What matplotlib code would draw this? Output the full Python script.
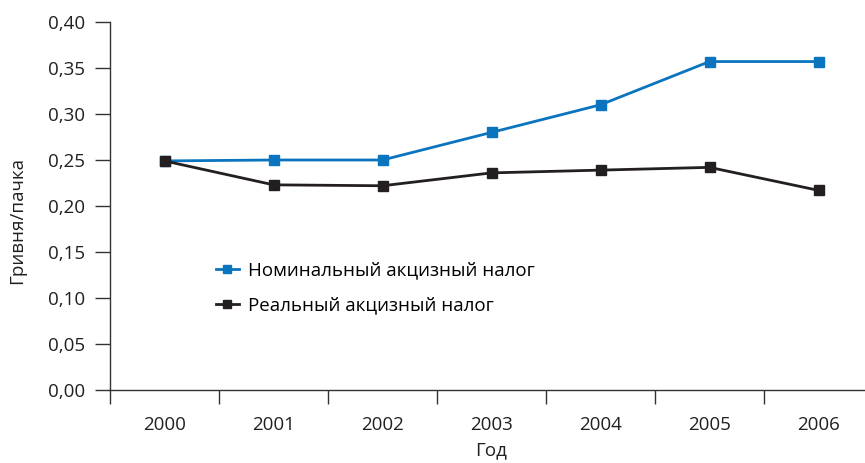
import numpy as np
import matplotlib.pyplot as plt
from matplotlib.ticker import FixedLocator, FuncFormatter

plt.rcParams['font.family'] = ['Open Sans', 'DejaVu Sans']

years = ['2000', '2001', '2002', '2003', '2004', '2005', '2006']
nominal = [0.249, 0.250, 0.250, 0.280, 0.310, 0.357, 0.357]
real = [0.249, 0.223, 0.222, 0.236, 0.239, 0.242, 0.217]
yticks = [0.0, 0.05, 0.10, 0.15, 0.20, 0.25, 0.30, 0.35, 0.40]

blue = '#0a74bf'
black = '#231f20'
axcol = '#333333'
fs = 13.5

fig = plt.figure(figsize=(8.65, 4.63), dpi=100)
ax = fig.add_axes([110/865, 1-390/463, 763/865, 368/463])

x = np.arange(len(years))
ax.plot(x, nominal, color=blue, lw=2, marker='s', ms=7, label='Номинальный акцизный налог')
ax.plot(x, real, color=black, lw=2, marker='s', ms=7, label='Реальный акцизный налог')

ax.set_xlim(-0.5, len(years) - 0.5)
ax.set_ylim(0, 0.40)
ax.set_yticks(yticks)
ax.yaxis.set_major_formatter(FuncFormatter(lambda v, p: f'{v:.2f}'.replace('.', ',')))
ax.set_xticks(x)
ax.set_xticklabels(years)
ax.xaxis.set_minor_locator(FixedLocator(np.arange(-0.5, len(years), 1.0)))

for s in ['top', 'right']:
    ax.spines[s].set_visible(False)
for s in ['left', 'bottom']:
    ax.spines[s].set_color(axcol)
    ax.spines[s].set_linewidth(1.0)

ax.tick_params(axis='y', length=11, width=1, color=axcol, pad=7, labelsize=fs, labelcolor='#231f20')
ax.tick_params(axis='x', which='major', length=0, pad=19, labelsize=fs, labelcolor='#231f20')
ax.tick_params(axis='x', which='minor', length=10, width=1, color=axcol)

ax.set_ylabel('Гривня/пачка', fontsize=fs, color='#231f20')
ax.yaxis.set_label_coords(-0.11, 0.46)
ax.set_xlabel('Год', fontsize=fs, color='#231f20', labelpad=5)

ax.legend(loc='upper left', bbox_to_anchor=(0.117, 0.395), frameon=False, fontsize=fs,
          handlelength=1.2, handletextpad=0.5, labelspacing=0.9, markerscale=0.8)

fig.savefig('out.png', dpi=100)
